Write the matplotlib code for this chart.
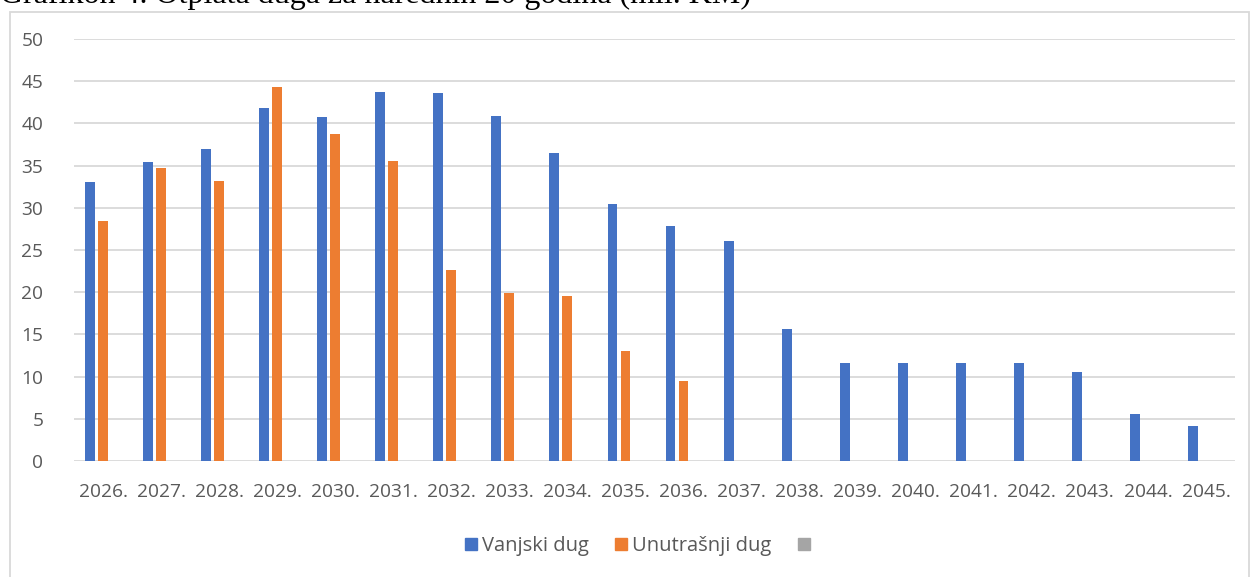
import numpy as np
import matplotlib.pyplot as plt
from matplotlib.patches import Rectangle, Patch

# data (mil. KM)
years = ['2026.', '2027.', '2028.', '2029.', '2030.', '2031.', '2032.', '2033.', '2034.', '2035.',
         '2036.', '2037.', '2038.', '2039.', '2040.', '2041.', '2042.', '2043.', '2044.', '2045.']
vanjski = [33.0, 35.4, 37.0, 41.8, 40.7, 43.7, 43.6, 40.9, 36.5, 30.5,
           27.8, 26.1, 15.6, 11.6, 11.6, 11.6, 11.6, 10.6, 5.6, 4.1]
unutrasnji = [28.4, 34.7, 33.2, 44.3, 38.7, 35.5, 22.6, 19.9, 19.6, 13.0,
              9.5, 0, 0, 0, 0, 0, 0, 0, 0, 0]
series_names = ['Vanjski dug', 'Unutrašnji dug', '']
colors = ['#4472C4', '#ED7D31', '#A5A5A5']

plt.rcParams['font.family'] = ['Open Sans', 'DejaVu Sans']
fig = plt.figure(figsize=(12.5, 5.77), dpi=100)
W, H = 1250, 577
ax = fig.add_axes([74 / W, 1 - 461 / H, (1235 - 74) / W, (461 - 39) / H])

x = np.arange(len(years))
bw = 0.17
off = 0.224
ax.bar(x - off, vanjski, bw, color=colors[0], zorder=3)
ax.bar(x, unutrasnji, bw, color=colors[1], zorder=3)

ax.set_xlim(-0.5, len(years) - 0.5)
ax.set_ylim(0, 50)
ax.set_yticks(range(0, 51, 5))
ax.set_xticks(x)
ax.set_xticklabels(years)
ax.yaxis.grid(True, color='#D9D9D9', linewidth=1.3, zorder=0)
for s in ax.spines.values():
    s.set_visible(False)
ax.tick_params(axis='both', length=0, labelsize=13.8, colors='#595959')
ax.tick_params(axis='y', pad=22)
ax.tick_params(axis='x', pad=16)

handles = [Patch(color=c) for c in colors]
fig.legend(handles, series_names, loc='center', bbox_to_anchor=(640 / W, 1 - 546 / H),
           ncol=3, frameon=False, fontsize=14.5, labelcolor='#595959',
           handlelength=0.6, handleheight=0.6, handletextpad=0.25, columnspacing=1.3)

# outer chart border
fig.patches.append(Rectangle((10 / W, -0.01), (1249 - 10) / W, 1 - 12 / H + 0.01,
                             transform=fig.transFigure, fill=False,
                             edgecolor='#D9D9D9', linewidth=1.3))

# document caption, cut off at the top of the image
fig.text(0, 1 - 3 / H, 'Grafikon 4. Otplata duga za narednih 20 godina (mil. KM)',
         family='Liberation Serif', fontsize=23, color='black', va='baseline', ha='left')

fig.savefig('out.png', dpi=100)
